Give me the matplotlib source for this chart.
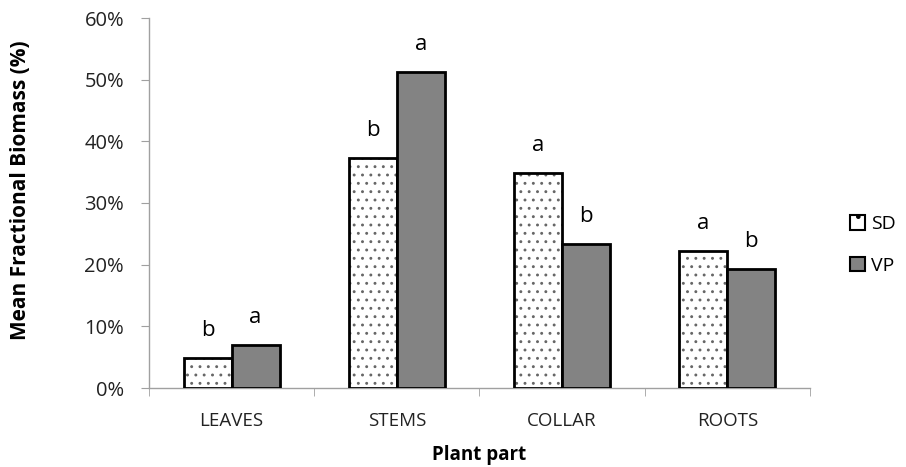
import matplotlib
matplotlib.use("Agg")
import matplotlib.pyplot as plt
import numpy as np
from matplotlib.patches import Patch

plt.rcParams['font.family'] = ['Open Sans', 'DejaVu Sans']
plt.rcParams['hatch.linewidth'] = 0.9

categories = ["LEAVES", "STEMS", "COLLAR", "ROOTS"]
sd_values = [4.9, 37.3, 34.8, 22.2]
vp_values = [7.0, 51.2, 23.3, 19.3]
sd_letters = ["b", "b", "a", "a"]
vp_letters = ["a", "a", "b", "b"]
y_ticks = [0, 10, 20, 30, 40, 50, 60]

SD_FACE = "white"
VP_FACE = "#838383"
DOT_COLOR = (0.4, 0.4, 0.4, 1.0)

fig = plt.figure(figsize=(9.06, 4.67), dpi=100)
ax = fig.add_axes([149/906, 1 - 388/467, (810 - 149)/906, (388 - 18)/467])

x = np.arange(1, len(categories) + 1)
w = 0.29

sd_bars = ax.bar(x - w/2, sd_values, w, facecolor=SD_FACE, edgecolor="black",
                 linewidth=2.0, hatch="..", zorder=3)
for b in sd_bars:
    b._hatch_color = DOT_COLOR
vp_bars = ax.bar(x + w/2, vp_values, w, facecolor=VP_FACE, edgecolor="black",
                 linewidth=2.0, zorder=3)

for xi, v, lab in zip(x - w/2, sd_values, sd_letters):
    ax.annotate(lab, (xi, v), xytext=(0, 20), textcoords="offset points",
                ha="center", va="center", fontsize=16, color="black")
for xi, v, lab in zip(x + w/2, vp_values, vp_letters):
    ax.annotate(lab, (xi, v), xytext=(0, 20), textcoords="offset points",
                ha="center", va="center", fontsize=16, color="black")

ax.set_xlim(0.5, len(categories) + 0.5)
ax.set_ylim(0, 60)
ax.set_yticks(y_ticks)
ax.set_yticklabels([f"{t}%" for t in y_ticks], fontsize=14.5, color="#222222")
ax.set_xticks(x)
ax.set_xticklabels(categories, fontsize=13.5, color="#222222")
ax.set_xticks(np.arange(0.5, len(categories) + 1, 1), minor=True)
ax.tick_params(axis="x", which="major", length=0, pad=17)
ax.tick_params(axis="x", which="minor", length=6, color="#a0a0a0", direction="out")
ax.tick_params(axis="y", length=6, color="#a0a0a0", direction="out", pad=12)

for s in ["top", "right"]:
    ax.spines[s].set_visible(False)
for s in ["left", "bottom"]:
    ax.spines[s].set_color("#a0a0a0")
    ax.spines[s].set_linewidth(1.0)

ax.set_xlabel("Plant part", fontsize=13.5, fontweight="bold", labelpad=11)
ax.set_ylabel("Mean Fractional Biomass (%)", fontsize=15, fontweight="bold",
              va="center")
ax.yaxis.set_label_coords(-0.195, 0.535)

sd_handle = Patch(facecolor=SD_FACE, edgecolor="black", linewidth=1.5, hatch=".", label="SD")
vp_handle = Patch(facecolor=VP_FACE, edgecolor="black", linewidth=1.5, label="VP")
fig.legend(handles=[sd_handle, vp_handle], loc="center left",
           bbox_to_anchor=(850/906, 1 - 245/467), borderpad=0, borderaxespad=0,
           frameon=False, fontsize=14, handlelength=0.75, handleheight=0.75,
           handletextpad=0.35, labelspacing=1.2)

fig.savefig("out.png", dpi=100)
